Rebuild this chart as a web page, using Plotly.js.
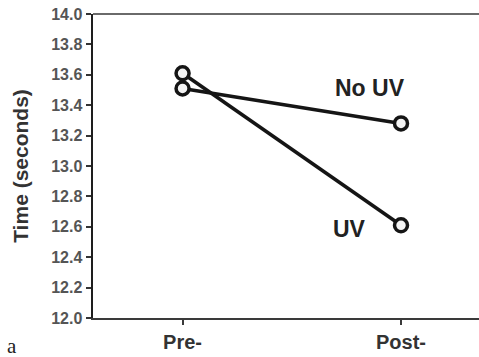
<!DOCTYPE html>
<html>
<head>
<meta charset="utf-8">
<script src="https://cdn.plot.ly/plotly-3.0.1.min.js"></script>
<style>
  html, body { margin: 0; padding: 0; background: #fff; overflow: hidden; }
  #chart { width: 479px; height: 357px; }
</style>
</head>
<body>
<div id="chart"></div>
<script>
// Test phases on the x axis
const phases = ['Pre-', 'Post-'];
// Mean completion time (seconds) per group
const uvTimes = [13.61, 12.61];
const noUvTimes = [13.51, 13.28];
// Y axis ticks
const yTicks = [12.0, 12.2, 12.4, 12.6, 12.8, 13.0, 13.2, 13.4, 13.6, 13.8, 14.0];

const lineStyle = { color: '#151515', width: 3.5 };
const markerStyle = { symbol: 'circle', size: 13, color: '#f4f4f4', line: { color: '#151515', width: 3.5 } };

const traces = [
  { name: 'No UV', x: phases, y: noUvTimes, type: 'scatter', mode: 'lines+markers',
    line: lineStyle, marker: markerStyle, cliponaxis: false },
  { name: 'UV', x: phases, y: uvTimes, type: 'scatter', mode: 'lines+markers',
    line: lineStyle, marker: markerStyle, cliponaxis: false }
];

const layout = {
  width: 479, height: 357,
  margin: { l: 93, r: 0, t: 14, b: 39, pad: 0 },
  paper_bgcolor: '#ffffff', plot_bgcolor: '#ffffff',
  showlegend: false,
  font: { family: 'Liberation Sans, Arial, sans-serif', color: '#222' },
  xaxis: {
    type: 'category', categoryarray: phases, categoryorder: 'array',
    range: [-0.41, 1.357],
    showgrid: false, zeroline: false,
    showline: true, linecolor: '#3a3a3a', linewidth: 2,
    ticks: 'outside', ticklen: 5, tickwidth: 2, tickcolor: '#3a3a3a',
    tickfont: { size: 20, weight: 'bold', color: '#333' }
  },
  yaxis: {
    range: [12, 14], tickvals: yTicks, tickformat: '.1f',
    showgrid: false, zeroline: false,
    showline: true, linecolor: '#1e1e1e', linewidth: 2.5,
    ticks: 'outside', ticklen: 5, tickwidth: 2, tickcolor: '#333',
    tickfont: { size: 16, weight: 'bold', color: '#555' },
    title: { text: 'Time (seconds)', font: { size: 21, weight: 'bold', color: '#333' }, standoff: 17 }
  },
  shapes: [
    { type: 'line', xref: 'paper', yref: 'paper', x0: 0, x1: 1, y0: 1, y1: 1,
      line: { color: '#6a6a6a', width: 2 } }
  ],
  annotations: [
    { x: 0.858, y: 13.51, xref: 'x', yref: 'y', text: 'No UV', showarrow: false,
      font: { size: 23, weight: 'bold', color: '#222' } },
    { x: 0.762, y: 12.585, xref: 'x', yref: 'y', text: 'UV', showarrow: false,
      font: { size: 23, weight: 'bold', color: '#222' } },
    { x: -0.209, y: -0.092, xref: 'paper', yref: 'paper', xanchor: 'center', yanchor: 'middle',
      text: 'a', showarrow: false,
      font: { size: 21, family: 'Liberation Serif, Times New Roman, serif', color: '#222' } }
  ]
};

Plotly.newPlot('chart', traces, layout, { staticPlot: true, displayModeBar: false });
</script>
</body>
</html>
